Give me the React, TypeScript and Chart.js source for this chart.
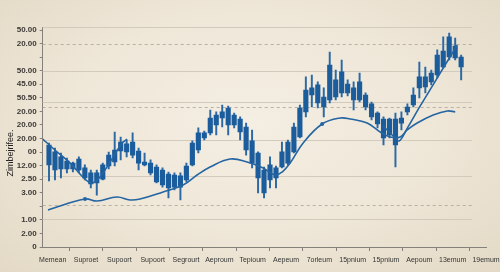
import React, { useEffect, useRef } from "react";
import { Chart, registerables } from "chart.js";

Chart.register(...registerables);

// ---------- data ----------
const xLabels = [
  "Memean", "Suproet", "Supoort", "Supoort", "Segrourt", "Aeproum", "Tepioum",
  "Aepeum", "7orleum", "15pnium", "15pnium", "Aepoum", "13emum", "19emum",
];

// y tick labels for tick values 0..16
const yTickLabels = [
  "0", "2.00", "1.00", "", "3.00", "2.50", "12.00", "00", "20.00", "20.00",
  "20.00", "50.50", "45.00", "50.00", "", "20.00", "50.00",
];

const yAxisTitle = "Zimbejrifee.";

const opens = [
  7.52, 7.01, 6.64, 6.34, 6.19, 6.49, 5.83, 5.46, 5.46, 5.01,
  5.97, 6.27, 7.08, 7.60, 7.74, 7.08, 6.27, 6.19, 5.90, 5.68,
  5.38, 5.31, 5.24, 4.94, 6.05, 7.15, 8.04, 8.41, 9.00, 9.51,
  10.25, 9.73, 9.44, 8.85, 7.82, 6.93, 5.68, 4.94, 5.09, 5.90,
  6.19, 7.01, 8.11, 9.96, 11.21, 11.95, 11.06, 10.84, 12.32, 11.36,
  12.02, 11.73, 10.84, 11.21, 10.55, 9.88, 9.44, 8.26, 9.44, 9.14,
  9.96, 10.47, 11.73, 12.54, 12.17, 12.68, 13.27, 14.01, 14.82, 14.01,
];
const closes = [
  6.05, 5.68, 5.75, 5.75, 5.75, 5.68, 5.09, 4.65, 4.72, 6.05,
  6.78, 7.15, 7.74, 7.01, 6.78, 6.19, 6.05, 5.46, 4.79, 4.57,
  4.35, 4.42, 4.42, 5.97, 7.67, 8.41, 8.41, 9.51, 9.73, 9.96,
  9.00, 9.00, 8.48, 7.15, 6.19, 5.09, 3.98, 6.05, 5.83, 7.01,
  7.74, 8.85, 10.25, 11.58, 11.73, 10.62, 10.32, 13.42, 11.06, 12.91,
  11.36, 10.84, 12.17, 10.32, 9.59, 9.07, 8.04, 9.44, 7.52, 9.51,
  10.32, 11.21, 12.54, 11.80, 12.83, 14.16, 14.45, 15.49, 13.94, 13.27,
];
const highs = [
  7.67, 7.30, 6.93, 6.56, 6.27, 6.64, 6.05, 5.68, 5.68, 6.19,
  7.00, 8.48, 8.11, 7.89, 8.41, 7.30, 6.93, 6.42, 6.05, 5.83,
  5.53, 5.46, 5.46, 6.19, 7.82, 8.78, 8.55, 10.10, 9.96, 10.47,
  10.40, 9.88, 9.59, 9.14, 8.63, 7.01, 5.90, 6.64, 5.97, 7.74,
  7.89, 9.14, 10.47, 12.54, 12.68, 12.17, 11.73, 14.38, 13.05, 13.79,
  12.32, 12.17, 12.83, 11.36, 10.69, 9.96, 9.59, 9.51, 9.88, 9.96,
  10.55, 11.73, 13.64, 13.27, 13.05, 14.53, 15.49, 15.78, 15.41, 14.16,
];
const lows = [
  4.87, 4.94, 5.09, 5.46, 5.53, 5.46, 4.94, 4.35, 3.83, 4.94,
  5.75, 5.97, 6.42, 6.64, 6.56, 5.68, 5.97, 5.31, 4.72, 4.42,
  3.61, 4.20, 3.47, 4.79, 5.97, 6.93, 7.89, 8.26, 8.26, 8.85,
  8.26, 8.78, 7.89, 6.78, 5.83, 3.98, 3.61, 4.35, 4.35, 5.83,
  6.05, 6.93, 8.04, 9.59, 10.32, 10.25, 9.59, 10.62, 10.84, 11.06,
  11.14, 10.10, 10.69, 10.10, 9.37, 8.78, 7.52, 8.04, 5.90, 8.63,
  9.73, 10.32, 10.99, 11.36, 11.95, 12.46, 13.20, 13.79, 13.79, 12.32,
];

// slow moving-average line (x in candle index units)
const slowLineX = [
  -0.17, 6.03, 8.04, 11.39, 13.57, 15.24, 19.1, 22.45, 24.79, 26.97,
  30.32, 33.17, 35.85, 37.86, 39.03, 40.37, 42.55, 45.73, 48.74, 50.42,
  53.27, 55.44, 57.12, 58.79, 59.97, 61.64, 64.32, 66.67, 68.01,
];
const slowLineY = [
  2.73, 3.54, 3.39, 3.69, 3.47, 3.54, 4.06, 4.57, 5.31, 5.9,
  6.49, 6.27, 5.83, 5.31, 5.53, 6.19, 7.67, 9.07, 9.51, 9.44,
  9.14, 8.48, 8.11, 8.11, 8.63, 9.14, 9.73, 10.03, 9.96,
];
const slowLineDots = [1, 17];

// fast line (two visible pieces, gap = null)
const fastLineX = [
  -1.05, 1.0, 3.52, 6.03, 7.2, 8.54, 10.22, 12.23, 13.07,
  30,
  56.0, 57.45, 58.63, 59.97, 62.15, 64.32, 66.0, 67.34, 68.34,
];
const fastLineY = [
  7.96, 7.15, 6.19, 5.01, 4.72, 5.16, 6.27, 7.67, 7.95,
  null,
  8.9, 8.26, 7.82, 8.75, 10.4, 11.97, 13.2, 14.16, 14.9,
];

// background reference lines (y values)
const solidGridValues = [16.2, 13.0, 10.67, 7.89, 5.24, 2.06];
const dashedGridValues = [14.95, 10.32, 3.13];

// ---------- component ----------
export default function App() {
  const ref = useRef<HTMLCanvasElement>(null);

  useEffect(() => {
    document.body.style.margin = "0";
    const canvas = ref.current;
    if (!canvas) return;

    const blue = "#1b5c9c";
    const lineBlue = "#2465a2";
    const axisColor = "#84807a";
    const gridEndValue = 12.58;

    const wickData = opens.map((_, i) => ({ x: i, y: [lows[i], highs[i]] }));
    const bodyData = opens.map((_, i) => ({
      x: i,
      y: [Math.min(opens[i], closes[i]), Math.max(opens[i], closes[i])],
    }));
    const slowData = slowLineX.map((x, i) => ({ x, y: slowLineY[i] }));
    const fastData = fastLineX.map((x, i) => ({ x, y: fastLineY[i] }));

    const refLines = {
      id: "refLines",
      beforeDatasetsDraw(chart: any) {
        const { ctx, chartArea, scales } = chart;
        const x0 = chartArea.left;
        const x1 = scales.x.getPixelForValue(gridEndValue);
        ctx.save();
        ctx.lineWidth = 1;
        ctx.strokeStyle = "#d2cabc";
        ctx.setLineDash([]);
        solidGridValues.forEach((v) => {
          const y = Math.round(scales.y.getPixelForValue(v)) + 0.5;
          ctx.beginPath();
          ctx.moveTo(x0, y);
          ctx.lineTo(x1, y);
          ctx.stroke();
        });
        ctx.strokeStyle = "#b9b0a2";
        ctx.setLineDash([3, 3]);
        dashedGridValues.forEach((v) => {
          const y = Math.round(scales.y.getPixelForValue(v)) + 0.5;
          ctx.beginPath();
          ctx.moveTo(x0, y);
          ctx.lineTo(x1, y);
          ctx.stroke();
        });
        ctx.restore();
      },
    };

    const axisTitle = {
      id: "axisTitle",
      afterDraw(chart: any) {
        const { ctx } = chart;
        ctx.save();
        ctx.translate(11, 153);
        ctx.rotate(-Math.PI / 2);
        ctx.font = "9px 'Liberation Sans', Arial, sans-serif";
        ctx.fillStyle = "#252321";
        ctx.textAlign = "center";
        ctx.textBaseline = "middle";
        ctx.fillText(yAxisTitle, 0, 0);
        ctx.restore();
      },
    };

    const chart = new Chart(canvas, {
      type: "bar",
      data: {
        datasets: [
          {
            type: "line",
            data: slowData as any,
            xAxisID: "xi",
            borderColor: lineBlue,
            backgroundColor: lineBlue,
            borderWidth: 1.6,
            tension: 0.4,
            fill: false,
            pointRadius: (c: any) => (slowLineDots.includes(c.dataIndex) ? 2 : 0),
            pointBorderWidth: 0,
            order: 0,
          } as any,
          {
            type: "line",
            data: fastData as any,
            xAxisID: "xi",
            borderColor: lineBlue,
            borderWidth: 1.6,
            tension: 0.3,
            fill: false,
            spanGaps: false,
            pointRadius: 0,
            order: 0,
          } as any,
          {
            type: "bar",
            data: wickData as any,
            xAxisID: "xi",
            backgroundColor: "#2c69a4",
            barThickness: 1.3,
            grouped: false,
            borderWidth: 0,
            order: 2,
          } as any,
          {
            type: "bar",
            data: bodyData as any,
            xAxisID: "xi",
            backgroundColor: blue,
            barThickness: 4.5,
            grouped: false,
            borderWidth: 0,
            order: 1,
          } as any,
        ],
      },
      options: {
        responsive: false,
        animation: false,
        layout: { padding: { top: 27.3, right: 14, left: 0, bottom: 0 } },
        plugins: { legend: { display: false }, tooltip: { enabled: false } },
        scales: {
          x: {
            type: "linear",
            position: "bottom",
            min: -0.3,
            max: 13,
            offset: false,
            afterBuildTicks: (s: any) => {
              s.ticks = xLabels.map((_, k) => ({ value: k }));
            },
            afterFit: (s: any) => {
              s.height = 25;
              s.paddingLeft = 0;
              s.paddingRight = 0;
            },
            ticks: {
              autoSkip: false,
              maxRotation: 0,
              minRotation: 0,
              padding: 5,
              color: "#333",
              font: { family: "'Liberation Sans', Arial, sans-serif", size: 7 },
              callback: (_v: any, i: number) => xLabels[i],
            },
            grid: {
              display: true,
              drawOnChartArea: false,
              drawTicks: true,
              tickLength: 4,
              color: axisColor,
            },
            border: { display: true, color: axisColor },
          } as any,
          xi: {
            type: "linear",
            display: false,
            min: -1.055,
            max: 73.16,
            offset: false,
          } as any,
          y: {
            type: "linear",
            min: 0,
            max: 16.2,
            afterBuildTicks: (s: any) => {
              s.ticks = yTickLabels.map((_, v) => ({ value: v }));
            },
            afterFit: (s: any) => {
              s.width = 42.7;
              s.paddingTop = 0;
              s.paddingBottom = 0;
            },
            ticks: {
              autoSkip: false,
              padding: 3,
              color: "#3b3834",
              font: {
                family: "'Liberation Sans', Arial, sans-serif",
                size: 8,
                weight: "bold",
              },
              callback: (v: any) => yTickLabels[Math.round(v)] ?? "",
            },
            grid: {
              display: true,
              drawOnChartArea: false,
              drawTicks: true,
              tickLength: 3,
              color: axisColor,
            },
            border: { display: true, color: axisColor },
          } as any,
        },
      },
      plugins: [refLines, axisTitle],
    });

    return () => chart.destroy();
  }, []);

  return (
    <div
      style={{
        width: 500,
        height: 272,
        background:
          "radial-gradient(ellipse at 50% 45%, #f4eee3 0%, #efe7d8 50%, #e3d9c6 100%)",
      }}
    >
      <canvas ref={ref} width={500} height={272} style={{ display: "block" }} />
    </div>
  );
}
